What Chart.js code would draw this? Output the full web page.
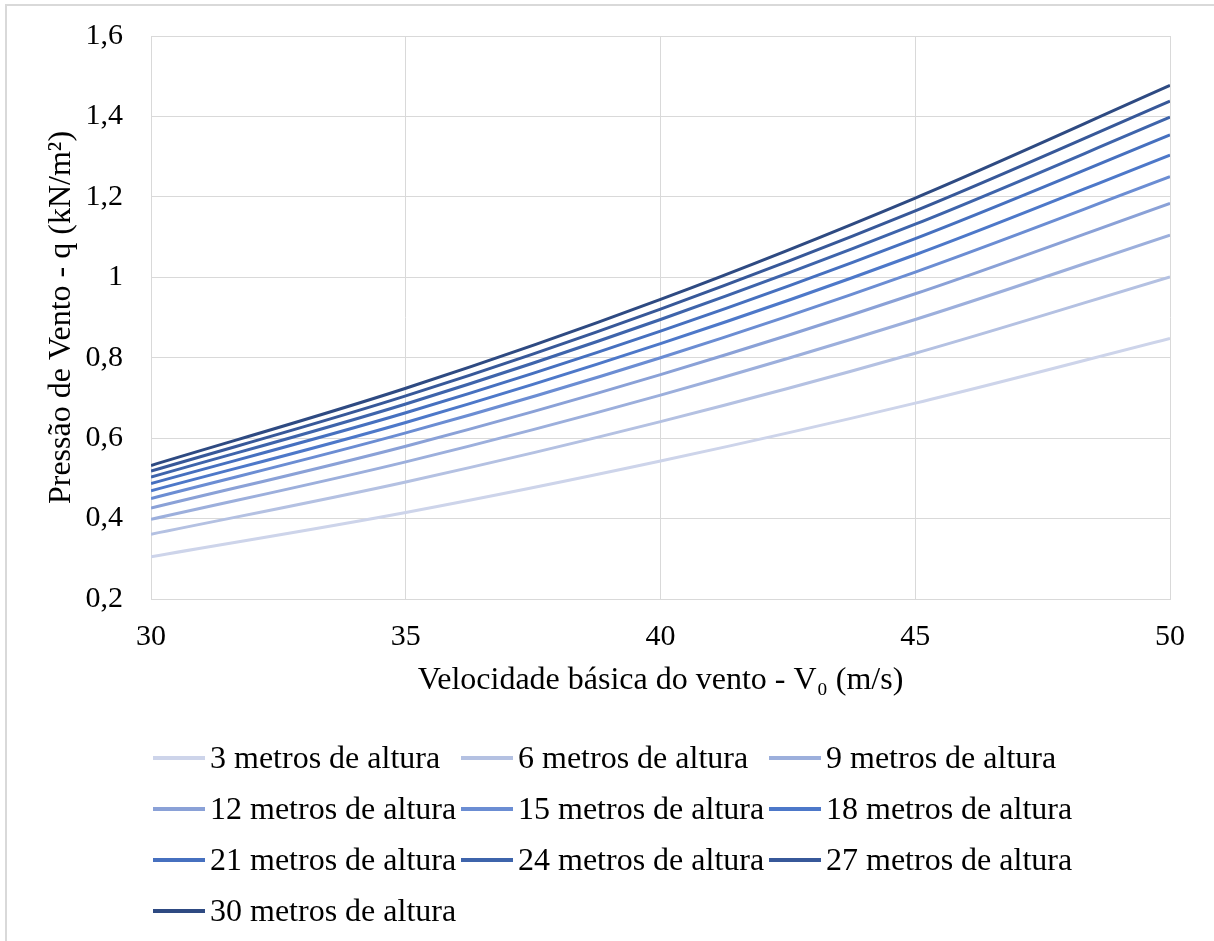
<!DOCTYPE html>
<html>
<head>
<meta charset="utf-8">
<script src="https://cdn.jsdelivr.net/npm/chart.js@4"></script>
<style>
  html, body { margin: 0; padding: 0; background: #fff; }
  #wrap { position: relative; width: 1214px; height: 941px; overflow: hidden; }
  #frame { position: absolute; left: 5px; top: 4px; width: 1300px; height: 1000px;
           border-left: 2px solid #d9d9d9; border-top: 2px solid #d9d9d9; box-sizing: border-box; }
  canvas { position: absolute; left: 0; top: 0; }
  #legend { position: absolute; left: 153px; top: 732px; width: 960px;
            font-family: "Liberation Serif", "Times New Roman", serif; font-size: 32px; color: #000; }
  .item { position: absolute; display: flex; align-items: center; white-space: nowrap; height: 51px; }
  .swatch { width: 52px; height: 4px; margin-right: 5px; }
</style>
</head>
<body>
<div id="wrap">
  <div id="frame"></div>
  <canvas id="c" width="1214" height="941"></canvas>
  <div id="legend"></div>
</div>
<script>
// Wind speed (m/s)
const speeds = [30, 35, 40, 45, 50];
// Series labels
const labels = ["3 metros de altura", "6 metros de altura", "9 metros de altura",
  "12 metros de altura", "15 metros de altura", "18 metros de altura",
  "21 metros de altura", "24 metros de altura", "27 metros de altura", "30 metros de altura"];
// Wind pressure q (kN/m²) read at each speed
const h3  = [0.305, 0.415, 0.543, 0.687, 0.848];
const h6  = [0.361, 0.491, 0.641, 0.811, 1.001];
const h9  = [0.398, 0.541, 0.707, 0.895, 1.105];
const h12 = [0.426, 0.580, 0.758, 0.959, 1.184];
const h15 = [0.450, 0.613, 0.800, 1.013, 1.250];
const h18 = [0.469, 0.639, 0.835, 1.056, 1.304];
const h21 = [0.487, 0.663, 0.866, 1.096, 1.354];
const h24 = [0.503, 0.685, 0.895, 1.132, 1.398];
const h27 = [0.518, 0.705, 0.921, 1.165, 1.438];
const h30 = [0.532, 0.724, 0.945, 1.197, 1.477];
const series = [h3, h6, h9, h12, h15, h18, h21, h24, h27, h30];
const colors = ["#cdd4ea", "#b4c1e2", "#9cafdc", "#8aa1d7", "#6b8dd3",
  "#4d78c9", "#4670bf", "#3e64ab", "#375899", "#2e4a82"];
// Axis ticks
const xTicks = [30, 35, 40, 45, 50];
const yTicks = [0.2, 0.4, 0.6, 0.8, 1.0, 1.2, 1.4, 1.6];

const FONT = "'Liberation Serif', 'Times New Roman', serif";

const datasets = series.map((vals, i) => ({
  label: labels[i],
  data: vals.map((v, j) => ({ x: speeds[j], y: v })),
  borderColor: colors[i],
  backgroundColor: colors[i],
  borderWidth: 3,
  pointRadius: 0,
  cubicInterpolationMode: 'monotone',
  fill: false
}));

const chart = new Chart(document.getElementById('c'), {
  type: 'line',
  data: { datasets },
  options: {
    responsive: false,
    animation: false,
    layout: { padding: { left: 40, top: 36, right: 44, bottom: 241 } },
    plugins: { legend: { display: false }, tooltip: { enabled: false } },
    scales: {
      x: {
        type: 'linear',
        min: xTicks[0], max: xTicks[xTicks.length - 1],
        afterBuildTicks: (s) => { s.ticks = xTicks.map(v => ({ value: v })); },
        afterFit: (s) => { s.height = 101; s.paddingLeft = 0; s.paddingRight = 0; },
        grid: { color: '#d9d9d9', lineWidth: 1, drawTicks: false },
        border: { color: '#d9d9d9', width: 1 },
        ticks: { color: '#000', padding: 20, font: { family: FONT, size: 30 }, maxRotation: 0,
                 callback: (v) => String(v) },
        title: { display: true, text: 'Velocidade básica do vento - V₀ (m/s)', color: '#000',
                 font: { family: FONT, size: 32 }, padding: { top: 0, bottom: 0 } }
      },
      y: {
        min: yTicks[0], max: yTicks[yTicks.length - 1],
        afterBuildTicks: (s) => { s.ticks = yTicks.map(v => ({ value: v })); },
        afterFit: (s) => { s.width = 111; s.paddingTop = 0; s.paddingBottom = 0; },
        grid: { color: '#d9d9d9', lineWidth: 1, drawTicks: false },
        border: { color: '#d9d9d9', width: 1 },
        ticks: { color: '#000', padding: 28, font: { family: FONT, size: 30 },
                 callback: (v) => { const r = Math.round(v * 10) / 10;
                   return Number.isInteger(r) ? String(r) : r.toFixed(1).replace('.', ','); } },
        title: { display: true, text: 'Pressão de Vento - q (kN/m²)', color: '#000',
                 font: { family: FONT, size: 32 }, padding: { top: 2, bottom: 0 } }
      }
    }
  }
});

// HTML legend built from the chart's datasets, laid out in 3 fixed columns
const leg = document.getElementById('legend');
chart.data.datasets.forEach((ds, i) => {
  const col = i % 3, row = Math.floor(i / 3);
  const el = document.createElement('div');
  el.className = 'item';
  el.style.left = (col * 308) + 'px';
  el.style.top = (row * 51) + 'px';
  const sw = document.createElement('span');
  sw.className = 'swatch';
  sw.style.background = ds.borderColor;
  const tx = document.createElement('span');
  tx.textContent = ds.label;
  el.appendChild(sw); el.appendChild(tx);
  leg.appendChild(el);
});
</script>
</body>
</html>
